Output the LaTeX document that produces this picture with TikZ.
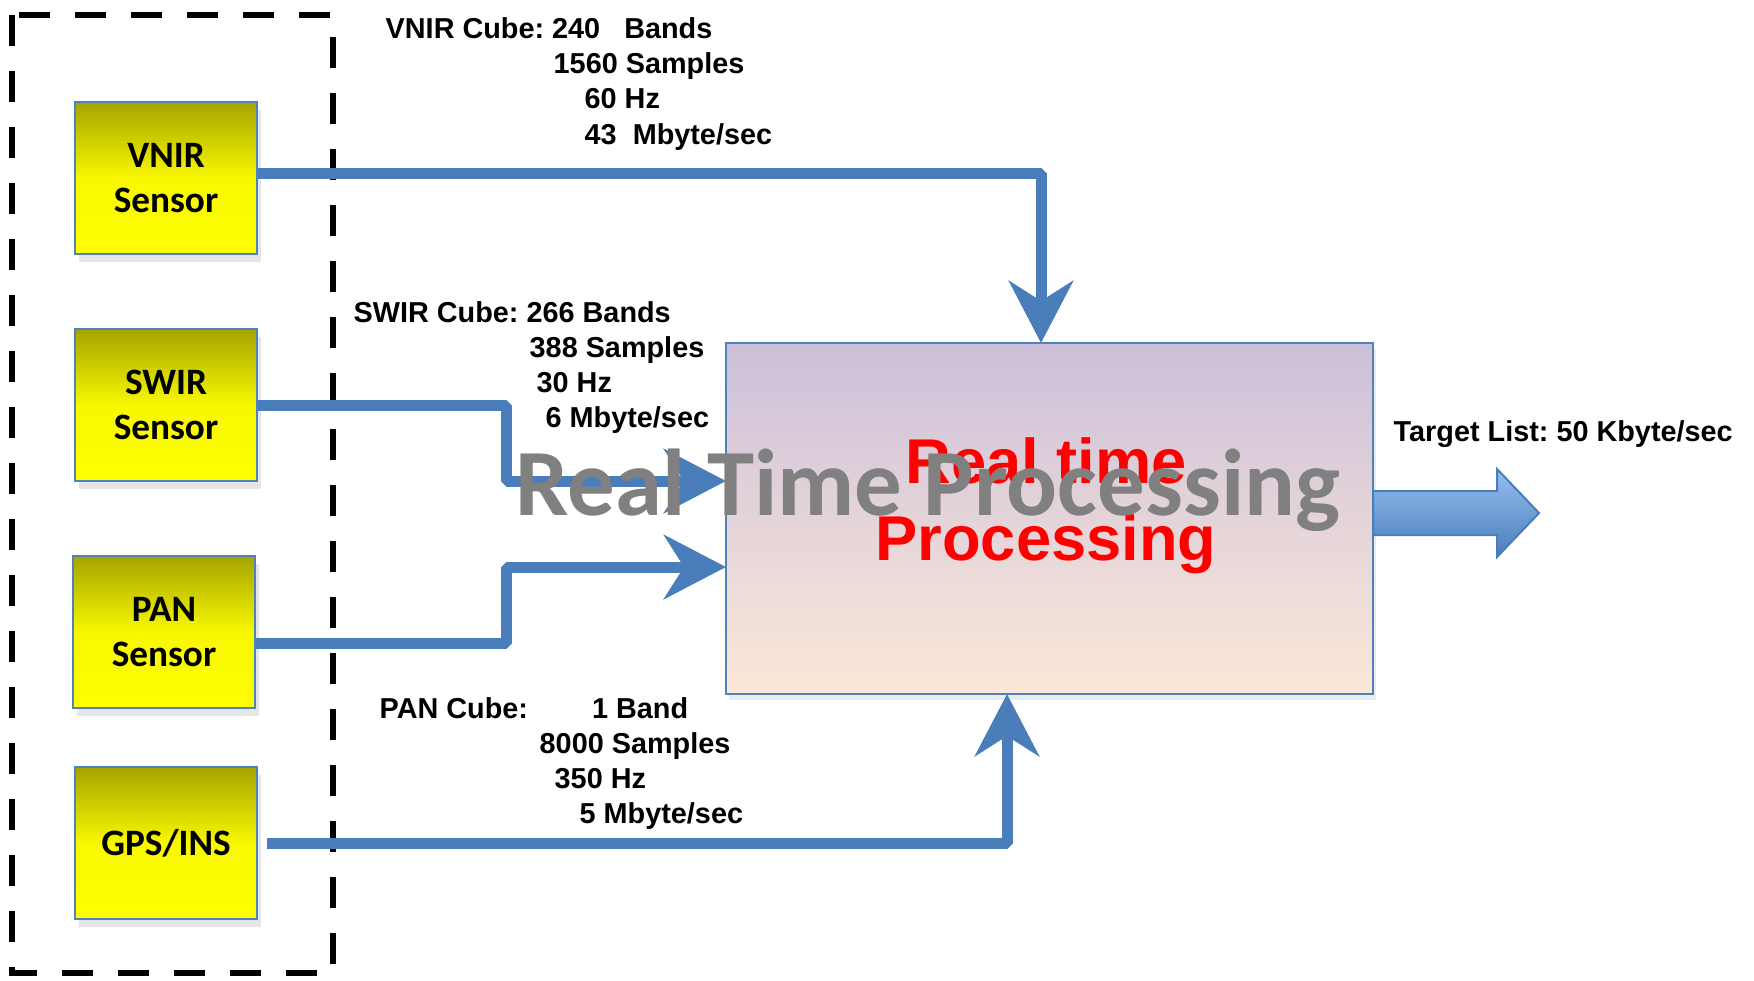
\documentclass[tikz,border=0pt]{standalone}
\usepackage{fontspec}
\setmainfont{Liberation Sans}
\newfontfamily\carlito{Carlito}
\usepackage{xcolor}
\usepackage{tikz}
\usetikzlibrary{arrows.meta, shadows, positioning}
\frenchspacing

\definecolor{fluxo}{RGB}{74,126,187}
\definecolor{borda}{RGB}{79,129,189}
\definecolor{oliva}{RGB}{166,164,0}
\definecolor{amarelo}{RGB}{255,255,0}
\definecolor{lilas}{RGB}{204,192,218}
\definecolor{pessego}{RGB}{252,232,216}
\definecolor{azulclaro}{RGB}{150,190,240}
\definecolor{cinza}{RGB}{128,128,128}

\tikzset{
  sensor/.style={draw=borda, line width=0.25mm, minimum width=18.2mm, minimum height=15.2mm,
    inner sep=0pt, align=center, top color=oliva, bottom color=amarelo, middle color=amarelo!92!oliva,
    font=\carlito\bfseries\fontsize{10.6}{12.8}\selectfont,
    drop shadow={shadow xshift=0.4mm, shadow yshift=-0.8mm, opacity=0.2}},
  flow/.style={draw=fluxo, line width=1.1mm, line join=bevel,
    -{Stealth[length=6.2mm, width=6.4mm, inset=2mm]}},
  info/.style={anchor=base west, inner sep=0pt, font=\bfseries\fontsize{8.2}{10}\selectfont},
}

\begin{document}
\begin{tikzpicture}[x=0.1mm, y=-0.1mm]
\useasboundingbox (0,0) rectangle (1754,980);
    % Caixa tracejada:
    \draw[line width=0.65mm, dash pattern=on 3.1mm off 2.5mm] (12,15) rectangle (333,973);
    % Sensores:
    \node[sensor] (vnir) at (166,178) {VNIR\\Sensor};
    \node[sensor] (swir) at (166,405) {SWIR\\Sensor};
    \node[sensor] (pan) at (164,632) {PAN\\Sensor};
    \node[sensor] (gps) at (166,843) {GPS/INS};
    % Processamento:
    \node[draw=borda, line width=0.25mm, minimum width=64.7mm, minimum height=35.1mm,
      top color=lilas, bottom color=pessego,
      drop shadow={shadow xshift=0.3mm, shadow yshift=-0.6mm, opacity=0.15}] (proc) at (1049.5,518.5) {};
    \coordinate (e1) at (1041,343);
    \coordinate (e2) at (726,481);
    \coordinate (e3) at (726,567);
    \coordinate (e4) at (1007,694);
    % Fluxos:
    \draw[flow] ([yshift=0.5mm]vnir.east) -| (e1);
    \draw[flow] (swir.east) -| (506,481) -- (e2);
    \draw[flow] ([yshift=-1.1mm]pan.east) -| (506,567) -- (e3);
    \draw[flow] ([xshift=0.9mm]gps.east) -| (e4);
    % Saida:
    \draw[draw=fluxo, line width=0.2mm, top color=azulclaro, bottom color=fluxo]
      (1373,491) -- (1497,491) -- (1497,469) -- (1539,513) -- (1497,557) -- (1497,535) -- (1373,535) -- cycle;
    % Textos:
    \node[info] (v1) at (385,38) {VNIR Cube: 240\ \ \ Bands};
    \node[info] (v2) at (553,73) {1560 Samples};
    \node[info] (v3) at (584,108) {60 Hz};
    \node[info] (v4) at (584,144) {43\ \ Mbyte/sec};
    \node[info] (s1) at (353,322) {SWIR Cube: 266 Bands};
    \node[info] (s2) at (529,357) {388 Samples};
    \node[info] (s3) at (536,392) {30 Hz};
    \node[info] (s4) at (545,427) {6 Mbyte/sec};
    \node[info] (p1) at (379,718) {PAN Cube:\hspace{6.4mm}1 Band};
    \node[info] (p2) at (539,753) {8000 Samples};
    \node[info] (p3) at (554,788) {350 Hz};
    \node[info] (p4) at (579,823) {5 Mbyte/sec};
    \node[info] (t1) at (1393,441) {Target List: 50 Kbyte/sec};
    \node[anchor=base, inner sep=0pt, text=red, font=\bfseries\fontsize{18}{22}\selectfont] (rt1) at (1046,483) {Real time};
    \node[anchor=base, inner sep=0pt, text=red, font=\bfseries\fontsize{18}{22}\selectfont] (rt2) at (1046,560) {Processing};
    \node[anchor=base, inner sep=0pt, text=cinza, font=\carlito\bfseries\fontsize{27}{32}\selectfont] (rtp) at (928,515) {Real Time Processing};
\end{tikzpicture}
\end{document}
